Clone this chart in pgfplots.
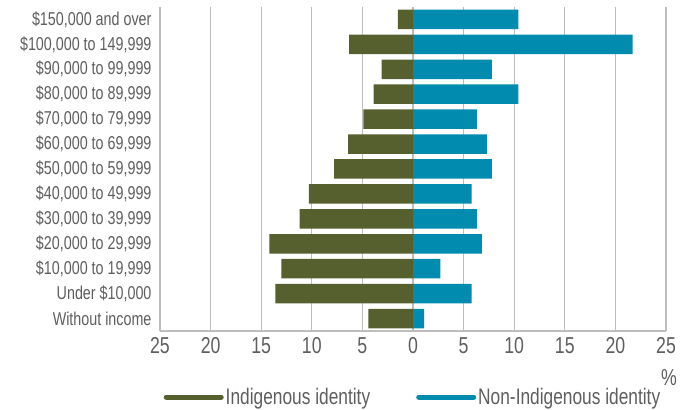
\documentclass[border=0pt]{standalone}
\usepackage{fontspec}
\setmainfont{Liberation Sans}[FakeStretch=0.77]
\usepackage{pgfplots}
\pgfplotsset{compat=1.18}
\definecolor{indig}{HTML}{56602F}
\definecolor{nonind}{HTML}{008BAF}
\definecolor{txtgray}{HTML}{5E5E5E}
\definecolor{gridgray}{HTML}{BDBDBD}
\begin{document}
\begin{tikzpicture}
\useasboundingbox (-160pt,-78pt) rectangle (524pt,331pt);
\begin{axis}[
  at={(0pt,0pt)}, anchor=south west,
  scale only axis, width=506pt, height=324pt,
  xbar, bar width=19.5pt,
  xmin=-25, xmax=25, ymin=-0.5, ymax=12.5,
  xtick={-25,-20,...,25},
  xticklabels={25,20,15,10,5,0,5,10,15,20,25},
  ytick={0,...,12},
  yticklabels={{Without income},{Under \$10,000},{\$10,000 to 19,999},{\$20,000 to 29,999},{\$30,000 to 39,999},{\$40,000 to 49,999},{\$50,000 to 59,999},{\$60,000 to 69,999},{\$70,000 to 79,999},{\$80,000 to 89,999},{\$90,000 to 99,999},{\$100,000 to 149,999},{\$150,000 and over}},
  /pgf/number format/assume math mode=true,
  major tick length=0pt,
  axis lines*=left,
  axis line style={draw=gridgray, line width=1.2pt},
  xmajorgrids, grid style={draw=gridgray, line width=1.2pt},
  ymajorgrids=false,
  xticklabel style={font=\fontsize{23}{26}\selectfont, text=txtgray, yshift=-3pt},
  yticklabel style={font=\fontsize{18.6}{21}\selectfont, text=txtgray, xshift=-5pt},
  xlabel={\%},
  xlabel style={at={(axis description cs:1,0)}, anchor=center, yshift=-47pt, xshift=3pt, font=\fontsize{23}{26}\selectfont, text=txtgray},
  legend style={at={(axis description cs:0.5,0)}, anchor=center, yshift=-66pt, draw=none, fill=none, legend columns=2, font=\fontsize{22.5}{25}\selectfont, text=txtgray, /tikz/every even column/.append style={column sep=44pt}},
  clip=false,
]
\addplot[fill=indig, draw=none, bar shift=0pt, legend image code/.code={\draw[indig, line width=5pt, line cap=round] (-2pt,0pt) -- (53pt,0pt);}] coordinates {
  (-4.4,0) (-13.6,1) (-13.0,2) (-14.2,3) (-11.2,4) (-10.3,5) (-7.8,6)
  (-6.4,7) (-4.9,8) (-3.9,9) (-3.1,10) (-6.3,11) (-1.5,12)
};
\addlegendentry{Indigenous identity}
\addplot[fill=nonind, draw=none, bar shift=0pt, legend image code/.code={\draw[nonind, line width=5pt, line cap=round] (-2pt,0pt) -- (53pt,0pt);}] coordinates {
  (1.1,0) (5.8,1) (2.7,2) (6.8,3) (6.3,4) (5.8,5) (7.8,6)
  (7.3,7) (6.3,8) (10.4,9) (7.8,10) (21.7,11) (10.4,12)
};
\addlegendentry{Non-Indigenous identity}
\end{axis}
\end{tikzpicture}
\end{document}
